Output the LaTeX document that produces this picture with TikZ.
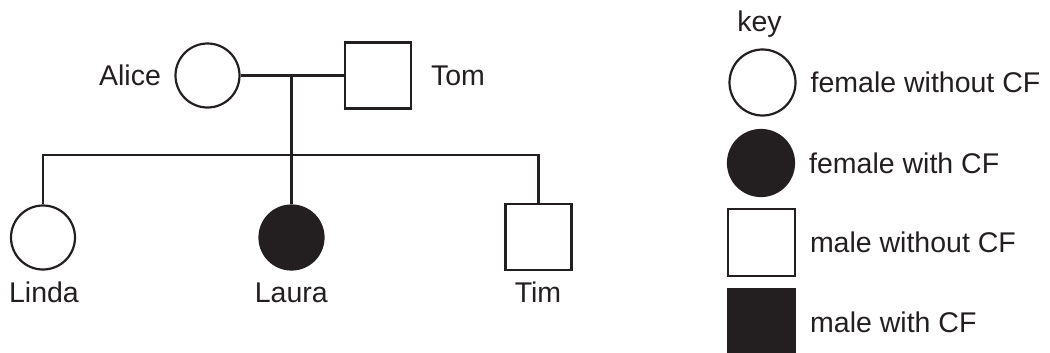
\documentclass[tikz,border=0pt]{standalone}
\usepackage{fontspec}
\setmainfont{Liberation Sans}
\usetikzlibrary{positioning}
\definecolor{pedink}{RGB}{35,31,32}

\begin{document}
\begin{tikzpicture}[x=1pt,y=-1pt,line width=2.2pt,color=pedink,
                    every node/.style={font=\fontsize{28.5}{34}\selectfont},
                    female/.style={shape=circle,draw,minimum size=64pt,inner sep=0pt},
                    male/.style={shape=rectangle,draw,minimum size=66pt,inner sep=0pt},
                    affected/.style={fill=pedink},
                    pedname/.style={inner sep=0pt}]
  \useasboundingbox (0,0) rectangle (1050,353);

  % parents
  \node[female] (Alice) at (207.5,75.5) {};
  \node[male] (Tom) at (378,75.5) {};
  \node[pedname,anchor=east] (AliceName) at (162,75) {Alice};
  \node[pedname,anchor=west] (TomName) at (430,75.5) {Tom};
  \coordinate (mating) at (291.5,75.5);
  \coordinate (sibship) at (291.5,155);

  % children
  \node[female] (Linda) at (43,237.5) {};
  \node[female,affected] (Laura) at (291.5,237.5) {};
  \node[male] (Tim) at (538.5,236.7) {};
  \node[pedname,anchor=base] (LindaName) at (44,302.7) {Linda};
  \node[pedname,anchor=base] (LauraName) at (291.3,302.7) {Laura};
  \node[pedname,anchor=base] (TimName) at (538,302.7) {Tim};

  \draw (Alice) -- (Tom);
  \draw (mating) -- (Laura);
  \draw (Linda) |- (sibship) -| (Tim);

  % key
  \node[pedname,anchor=base] (keyTitle) at (759.5,31.7) {key};
  \node[female,minimum size=66pt] (keyF) at (762.5,82.5) {};
  \node[female,affected,minimum size=66pt] (keyFA) at (761,163) {};
  \node[male,minimum size=67pt] (keyM) at (761.3,242.5) {};
  \node[male,affected,minimum size=67pt] (keyMA) at (761.5,322.5) {};
  \node[pedname,right=13pt of keyF] (keyFtext) {female without CF};
  \node[pedname,right=13pt of keyFA] (keyFAtext) {female with CF};
  \node[pedname,right=13pt of keyM] (keyMtext) {male without CF};
  \node[pedname,right=13pt of keyMA] (keyMAtext) {male with CF};
\end{tikzpicture}
\end{document}
